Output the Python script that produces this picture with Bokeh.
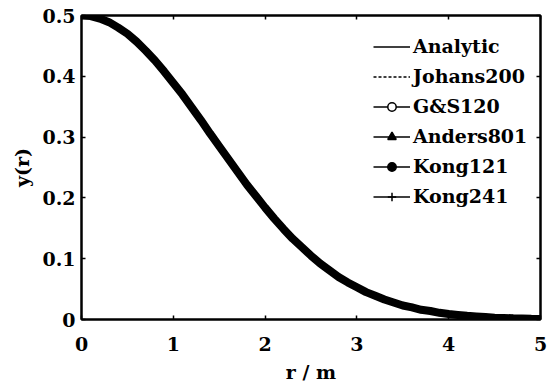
from bokeh.plotting import figure
from bokeh.models import LinearAxis, Legend, LegendItem, Range1d, FixedTicker
from bokeh.embed import file_html
from bokeh.resources import INLINE

r = [0.0, 0.1, 0.2, 0.3, 0.4, 0.5, 0.6, 0.7, 0.8, 0.9,
     1.0, 1.1, 1.2, 1.3, 1.4, 1.5, 1.6, 1.7, 1.8, 1.9,
     2.0, 2.1, 2.2, 2.3, 2.4, 2.5, 2.6, 2.7, 2.8, 2.9,
     3.0, 3.1, 3.2, 3.3, 3.4, 3.5, 3.6, 3.7, 3.8, 3.9,
     4.0, 4.1, 4.2, 4.3, 4.4, 4.5, 4.6, 4.7, 4.8, 4.9, 5.0]
y_analytic = [0.500, 0.499, 0.495, 0.489, 0.480, 0.470, 0.457, 0.442, 0.426, 0.408,
              0.389, 0.370, 0.349, 0.328, 0.306, 0.285, 0.264, 0.243, 0.222, 0.203,
              0.184, 0.166, 0.149, 0.133, 0.119, 0.105, 0.092, 0.081, 0.070, 0.061,
              0.053, 0.045, 0.039, 0.033, 0.028, 0.023, 0.020, 0.016, 0.014, 0.011,
              0.009, 0.0075, 0.006, 0.005, 0.004, 0.003, 0.0025, 0.002, 0.0016, 0.0012, 0.001]
series_names = ["Analytic", "Johans200", "G&S120", "Anders801", "Kong121", "Kong241"]
x_ticks = [0, 1, 2, 3, 4, 5]
y_ticks = [0, 0.1, 0.2, 0.3, 0.4, 0.5]

FONT = "DejaVu Serif"
FS = "19px"

p = figure(width=557, height=391, output_backend="svg", toolbar_location=None,
           x_range=Range1d(0, 5), y_range=Range1d(0, 0.5),
           min_border_left=81, min_border_right=17, min_border_top=15, min_border_bottom=72,
           x_axis_label="r / m", y_axis_label="y(r)")
p.grid.visible = False
p.outline_line_color = "black"
p.outline_line_width = 2
p.background_fill_color = "white"
p.border_fill_color = "white"

def style_axis(ax, ticks, labels=True):
    ax.ticker = FixedTicker(ticks=ticks)
    ax.major_tick_in = 4
    ax.major_tick_out = 0
    ax.minor_tick_in = 0
    ax.minor_tick_out = 0
    ax.axis_line_width = 2
    ax.major_tick_line_width = 1.5
    ax.major_label_text_font = FONT
    ax.major_label_text_font_style = "bold"
    ax.major_label_text_font_size = FS
    ax.major_label_text_color = "black"
    ax.axis_label_text_font = FONT
    ax.axis_label_text_font_style = "bold"
    ax.axis_label_text_font_size = FS
    ax.axis_label_text_color = "black"
    if not labels:
        ax.major_label_overrides = {t: "" for t in ticks}
        ax.major_label_standoff = 0

style_axis(p.xaxis[0], x_ticks)
style_axis(p.yaxis[0], y_ticks)
p.yaxis[0].major_label_overrides = {0: "0"}
p.xaxis[0].major_label_standoff = 17
p.yaxis[0].major_label_standoff = 6
p.xaxis[0].axis_label_standoff = 7
p.yaxis[0].axis_label_standoff = 6

top = LinearAxis()
right = LinearAxis()
style_axis(top, x_ticks, labels=False)
style_axis(right, y_ticks, labels=False)
p.add_layout(top, "above")
p.add_layout(right, "right")

# thick overlapping curve (all methods coincide)
p.line(r, y_analytic, line_color="black", line_width=8)

items = []
l0 = p.line(r, y_analytic, line_color="black", line_width=1.5)
items.append(LegendItem(label=series_names[0], renderers=[l0]))
l1 = p.line(r, y_analytic, line_color="black", line_width=1.5, line_dash="3 2")
items.append(LegendItem(label=series_names[1], renderers=[l1]))
markers = [("circle", 4, "white"), ("triangle", 5, "black"), ("circle", 4, "black"), ("cross", 7, "black")]
for name, (mk, sz, fill) in zip(series_names[2:], markers):
    ln = p.line(r, y_analytic, line_color="black", line_width=1.5)
    sc = p.scatter(r, y_analytic, marker=mk, size=sz, line_color="black", fill_color=fill, line_width=1.5)
    items.append(LegendItem(label=name, renderers=[ln, sc]))

legend = Legend(items=items, location=(292, 112))
legend.border_line_color = None
legend.background_fill_alpha = 0
legend.label_text_font = FONT
legend.label_text_font_style = "bold"
legend.label_text_font_size = FS
legend.label_text_color = "black"
legend.glyph_width = 37
legend.glyph_height = 21
legend.label_height = 21
legend.spacing = 8
legend.padding = 0
legend.margin = 0
legend.label_standoff = 3
p.add_layout(legend, "center")

open("out.html", "w").write(file_html(p, INLINE))
